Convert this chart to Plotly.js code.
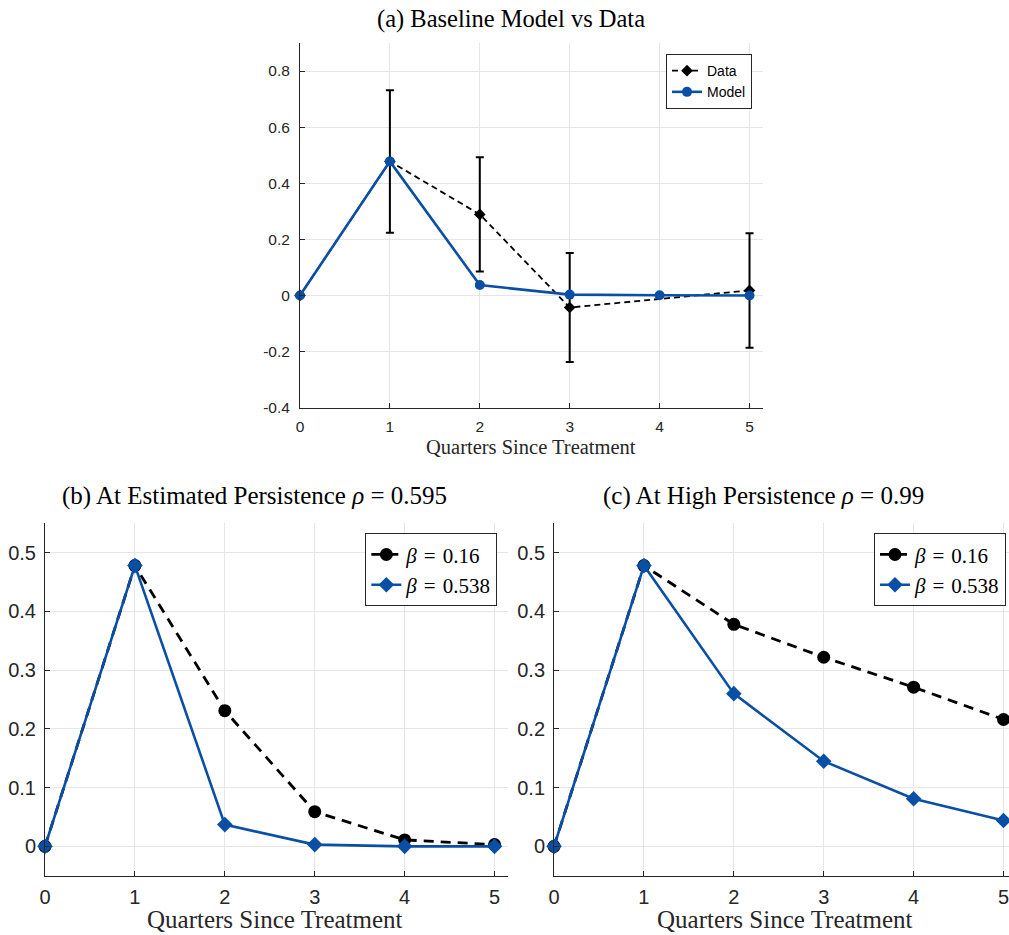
<!DOCTYPE html>
<html>
<head>
<meta charset="utf-8">
<script src="https://cdn.plot.ly/plotly-3.0.1.min.js"></script>
<style>
html,body{margin:0;padding:0;background:#fff;}
#chart{width:1009px;height:935px;}
</style>
</head>
<body>
<div id="chart"></div>
<script>
// ---- data ----
const quarters = [0, 1, 2, 3, 4, 5];
const xTickText = ['0', '1', '2', '3', '4', '5'];

// Panel (a): baseline model vs data
const dataQuarters = [0, 1, 2, 3, 5];
const dataValues = [0, 0.478, 0.289, -0.043, 0.018];
const dataErrors = [0, 0.254, 0.204, 0.194, 0.204];
const modelValues = [0, 0.478, 0.037, 0.003, 0.001, 0.000];
const yTicksA = [-0.4, -0.2, 0, 0.2, 0.4, 0.6, 0.8];
const yTickTextA = ['-0.4', '-0.2', '0', '0.2', '0.4', '0.6', '0.8'];

// Panel (b): estimated persistence rho = 0.595
const estBetaLow = [0, 0.478, 0.231, 0.059, 0.011, 0.003];
const estBetaHigh = [0, 0.478, 0.037, 0.003, 0.000, 0.000];

// Panel (c): high persistence rho = 0.99
const highBetaLow = [0, 0.478, 0.378, 0.322, 0.271, 0.216];
const highBetaHigh = [0, 0.478, 0.260, 0.145, 0.081, 0.044];

const yTicksBC = [0, 0.1, 0.2, 0.3, 0.4, 0.5];
const yTickTextBC = ['0', '0.1', '0.2', '0.3', '0.4', '0.5'];

const SP = '\u2004';
const seriesNames = ['Data', 'Model', '<i>β</i>' + SP + '=' + SP + '0.16', '<i>β</i>' + SP + '=' + SP + '0.538'];

// ---- styles ----
const BLUE = '#0a4fa6';
const AX = '#262626';
const GRID = '#e6e6e6';
const SANS = 'Liberation Sans, Arial, Helvetica, sans-serif';
const SERIF = 'Liberation Serif, Times New Roman, serif';

const traces = [
  {
    x: dataQuarters, y: dataValues, xaxis: 'x', yaxis: 'y', legend: 'legend',
    name: seriesNames[0], type: 'scatter', mode: 'lines+markers', cliponaxis: false,
    line: {color: '#000', width: 1.8, dash: '6px,4px'},
    marker: {symbol: 'diamond', size: 9, color: '#000'},
    error_y: {type: 'data', array: dataErrors, visible: true, color: '#000', thickness: 2, width: 4}
  },
  {
    x: quarters, y: modelValues, xaxis: 'x', yaxis: 'y', legend: 'legend',
    name: seriesNames[1], type: 'scatter', mode: 'lines+markers', cliponaxis: false,
    line: {color: BLUE, width: 2.6},
    marker: {symbol: 'circle', size: 10, color: BLUE}
  },
  {
    x: quarters, y: estBetaLow, xaxis: 'x2', yaxis: 'y2', legend: 'legend2',
    name: seriesNames[2], type: 'scatter', mode: 'lines+markers', cliponaxis: false,
    line: {color: '#000', width: 2.8, dash: '10px,7px'},
    marker: {symbol: 'circle', size: 13, color: '#000'}
  },
  {
    x: quarters, y: estBetaHigh, xaxis: 'x2', yaxis: 'y2', legend: 'legend2',
    name: seriesNames[3], type: 'scatter', mode: 'lines+markers', cliponaxis: false,
    line: {color: BLUE, width: 2.6},
    marker: {symbol: 'diamond', size: 12, color: BLUE}
  },
  {
    x: quarters, y: highBetaLow, xaxis: 'x3', yaxis: 'y3', legend: 'legend3',
    name: seriesNames[2], type: 'scatter', mode: 'lines+markers', cliponaxis: false,
    line: {color: '#000', width: 2.8, dash: '10px,7px'},
    marker: {symbol: 'circle', size: 13, color: '#000'}
  },
  {
    x: quarters, y: highBetaHigh, xaxis: 'x3', yaxis: 'y3', legend: 'legend3',
    name: seriesNames[3], type: 'scatter', mode: 'lines+markers', cliponaxis: false,
    line: {color: BLUE, width: 2.6},
    marker: {symbol: 'diamond', size: 12, color: BLUE}
  }
];

function axisBase(fontSize, standoff) {
  return {
    showline: true, linecolor: AX, linewidth: 1, mirror: false,
    ticks: 'inside', ticklen: 5, tickcolor: AX, tickwidth: 1,
    showgrid: true, gridcolor: GRID, gridwidth: 1, zeroline: false,
    tickfont: {family: SANS, size: fontSize, color: AX},
    ticklabelstandoff: standoff,
    ticklabeloverflow: 'allow',
    fixedrange: true
  };
}

const legendBase = {
  bgcolor: '#fff', bordercolor: AX, borderwidth: 1,
  xref: 'paper', yref: 'paper', xanchor: 'right', yanchor: 'top',
  itemwidth: 30, tracegroupgap: 0
};

const layout = {
  width: 1009, height: 935,
  margin: {l: 0, r: 0, t: 0, b: 0},
  paper_bgcolor: '#fff', plot_bgcolor: '#fff',
  showlegend: true,
  xaxis: Object.assign(axisBase(15.5, 5), {domain: [0.2973, 0.7562], anchor: 'y', range: [0, 5.15],
    tickmode: 'array', tickvals: quarters, ticktext: xTickText}),
  yaxis: Object.assign(axisBase(15.5, 6), {domain: [0.5640, 0.9540], anchor: 'x', range: [-0.4, 0.9],
    tickmode: 'array', tickvals: yTicksA, ticktext: yTickTextA}),
  xaxis2: Object.assign(axisBase(20, 3), {domain: [0.0446, 0.5035], anchor: 'y2', range: [0, 5.15],
    tickmode: 'array', tickvals: quarters, ticktext: xTickText}),
  yaxis2: Object.assign(axisBase(20, 4), {domain: [0.0634, 0.4403], anchor: 'x2', range: [-0.05, 0.55],
    tickmode: 'array', tickvals: yTicksBC, ticktext: yTickTextBC}),
  xaxis3: Object.assign(axisBase(20, 3), {domain: [0.5491, 1.0], anchor: 'y3', range: [0, 5.061],
    tickmode: 'array', tickvals: quarters, ticktext: xTickText}),
  yaxis3: Object.assign(axisBase(20, 4), {domain: [0.0634, 0.4403], anchor: 'x3', range: [-0.05, 0.55],
    tickmode: 'array', tickvals: yTicksBC, ticktext: yTickTextBC}),
  legend: Object.assign({}, legendBase, {x: 0.7453, y: 0.9422,
    font: {family: SANS, size: 14, color: '#000'}}),
  legend2: Object.assign({}, legendBase, {x: 0.4929, y: 0.4296,
    font: {family: SERIF, size: 21, color: '#000'}}),
  legend3: Object.assign({}, legendBase, {x: 0.997, y: 0.4296,
    font: {family: SERIF, size: 21, color: '#000'}}),
  annotations: [
    {text: '(a) Baseline Model vs Data', x: 0.506, y: 0.9797,
     font: {family: SERIF, size: 24.5, color: '#000'}},
    {text: 'Quarters Since Treatment', x: 0.5258, y: 0.5219,
     font: {family: SERIF, size: 20.5, color: AX}},
    {text: '(b) At Estimated Persistence <i>ρ</i> = 0.595', x: 0.2522, y: 0.4695,
     font: {family: SERIF, size: 25, color: '#000'}},
    {text: '(c) At High Persistence <i>ρ</i> = 0.99', x: 0.7567, y: 0.4695,
     font: {family: SERIF, size: 25, color: '#000'}},
    {text: 'Quarters Since Treatment', x: 0.2730, y: 0.0, yanchor: 'bottom',
     font: {family: SERIF, size: 25, color: AX}},
    {text: 'Quarters Since Treatment', x: 0.7783, y: 0.0, yanchor: 'bottom',
     font: {family: SERIF, size: 25, color: AX}}
  ].map(a => Object.assign({xref: 'paper', yref: 'paper', showarrow: false,
     xanchor: 'center', yanchor: 'middle'}, a))
};

Plotly.newPlot('chart', traces, layout, {displayModeBar: false, staticPlot: true});
</script>
</body>
</html>
